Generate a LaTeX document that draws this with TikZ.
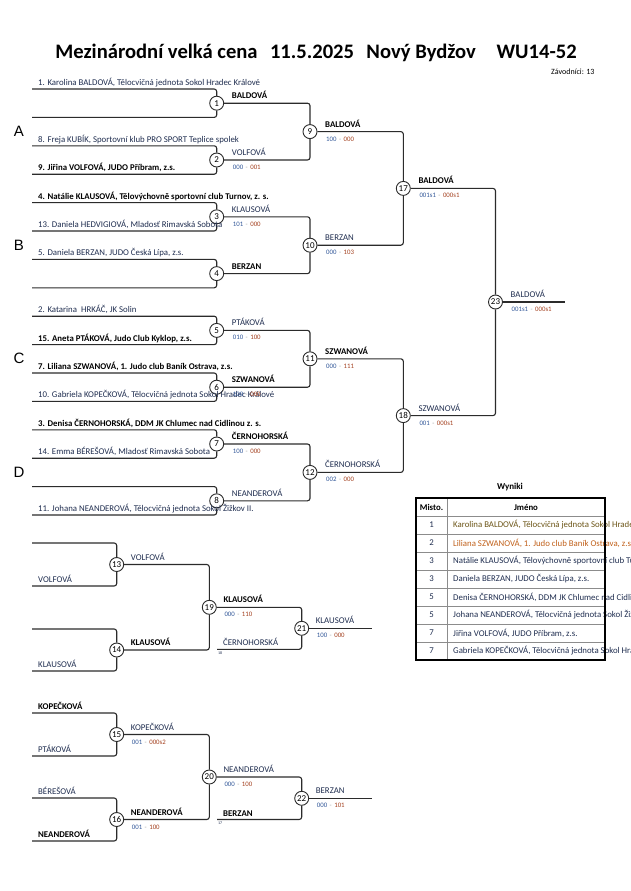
\documentclass[tikz,border=0pt]{standalone}
\usepackage{fontspec}
\setmainfont{Carlito}
\newfontfamily\grpfont{Liberation Sans}
\usetikzlibrary{positioning,calc}
\definecolor{ln}{HTML}{2B2B2B}
\definecolor{nm}{HTML}{1F2D4F}
\definecolor{scA}{HTML}{2F5597}
\definecolor{scB}{HTML}{A23E1C}
\definecolor{scS}{HTML}{9A9A9A}
\definecolor{tbl}{HTML}{8C8C8C}
\definecolor{rkA}{HTML}{6B5416}
\definecolor{rkB}{HTML}{C0601A}
\newcommand{\score}[2]{\textcolor{scA}{#1}\hspace{2.5pt}\textcolor{scS}{-}\hspace{2.5pt}\textcolor{scB}{#2}}

\begin{document}
\begin{tikzpicture}[x=1pt,y=-1pt,
  font=\fontsize{8.8}{10}\selectfont,
  wire/.style={draw=ln,line width=1.1pt,rounded corners=2.5pt},
  bout/.style={circle,draw=ln,line width=0.9pt,fill=white,inner sep=0pt,minimum size=14pt,font=\fontsize{9}{10}\selectfont},
  ent/.style={anchor=base west,inner sep=0pt,text=nm},
  entb/.style={ent,text=black,font=\fontsize{8.8}{10}\selectfont\bfseries},
  scr/.style={anchor=base west,inner sep=0pt,font=\fontsize{6.8}{8}\selectfont},
  grp/.style={font=\grpfont\fontsize{15}{16}\selectfont},
  ref/.style={anchor=north west,inner sep=0pt,text=nm,font=\fontsize{4}{5}\selectfont},
  cell/.style={inner sep=0pt,text=nm},
  ]
\useasboundingbox (0,0) rectangle (630,891);

% ================= header =================
\node[font=\fontsize{20.6}{24}\selectfont\bfseries] (title) at (316,53)
  {Mezinárodní velká cena\hspace{0.6em}11.5.2025\hspace{0.6em}Nový Bydžov\hspace{1em}WU14-52};
\node[anchor=east,font=\fontsize{8}{9}\selectfont] (count) at (598,72) {Závodníci: 13};

% ================= main bracket =================
\foreach \i in {0,...,15} \coordinate (e\i) at (32,{89+28.4*\i});
\foreach \k in {1,...,8} \node[bout] (m\k) at (216.7,{103.2+56.8*(\k-1)}) {\k};
\foreach \k in {9,...,12} \node[bout] (m\k) at (310,{131.6+113.6*(\k-9)}) {\k};
\node[bout] (m17) at (403.3,188.4) {17};
\node[bout] (m18) at (403.3,415.6) {18};
\node[bout] (m23) at (495.5,302) {23};
\coordinate (f23) at (565,302);

\foreach \k [evaluate=\k as \a using int(2*\k-2), evaluate=\k as \b using int(2*\k-1)] in {1,...,8}
  {\draw[wire] (e\a) -| (m\k); \draw[wire] (e\b) -| (m\k);}
\foreach \a/\b/\c in {1/2/9,3/4/10,5/6/11,7/8/12,9/10/17,11/12/18,17/18/23}
  {\draw[wire] (m\a) -| (m\c); \draw[wire] (m\b) -| (m\c);}
\draw[wire] (m23) -- (f23);

\foreach \i/\s/\t in {0/ent/{1. Karolina BALDOVÁ, Tělocvičná jednota Sokol Hradec Králové},
  2/ent/{8. Freja KUBÍK, Sportovní klub PRO SPORT Teplice spolek},
  3/entb/{9. Jiřina VOLFOVÁ, JUDO Příbram, z.s.},
  4/entb/{4. Natálie KLAUSOVÁ, Tělovýchovně sportovní club Turnov, z. s.},
  5/ent/{13. Daniela HEDVIGIOVÁ, Mladosť Rimavská Sobota},
  6/ent/{5. Daniela BERZAN, JUDO Česká Lípa, z.s.},
  8/ent/{2. Katarina\ \ HRKÁČ, JK Solin},
  9/entb/{15. Aneta PTÁKOVÁ, Judo Club Kyklop, z.s.},
  10/entb/{7. Liliana SZWANOVÁ, 1. Judo club Baník Ostrava, z.s.},
  11/ent/{10. Gabriela KOPEČKOVÁ, Tělocvičná jednota Sokol Hradec Králové},
  12/entb/{3. Denisa ČERNOHORSKÁ, DDM JK Chlumec nad Cidlinou z. s.},
  13/ent/{14. Emma BÉREŠOVÁ, Mladosť Rimavská Sobota},
  15/ent/{11. Johana NEANDEROVÁ, Tělocvičná jednota Sokol Žižkov II.}}
  \node[\s] (l\i) at ($(e\i)+(6,-3.5)$) {\t};

\foreach \g/\y in {A/131.6,B/245.2,C/358.8,D/472.4} \node[grp] (g\g) at (19,\y) {\g};

\foreach \k/\s/\t in {1/entb/BALDOVÁ,2/ent/VOLFOVÁ,3/ent/KLAUSOVÁ,4/entb/BERZAN,
  5/ent/PTÁKOVÁ,6/entb/SZWANOVÁ,7/entb/ČERNOHORSKÁ,8/ent/NEANDEROVÁ,
  9/entb/BALDOVÁ,10/ent/BERZAN,11/entb/SZWANOVÁ,12/ent/ČERNOHORSKÁ,
  17/entb/BALDOVÁ,18/ent/SZWANOVÁ,23/ent/BALDOVÁ}
  \node[\s] (w\k) at ($(m\k)+(15,-4.5)$) {\t};
\foreach \k/\p/\q in {2/000/001,3/101/000,5/010/100,6/100/000,7/100/000,9/100/000,
  10/000/103,11/000/111,12/002/000,17/001s1/000s1,18/001/000s1,23/001s1/000s1}
  \node[scr] (s\k) at ($(m\k)+(16,9.5)$) {\score{\p}{\q}};

% ================= repechage =================
\foreach \i/\y in {0/543,1/586,2/629,3/671,4/713,5/756,6/798,7/841} \coordinate (r\i) at (32,\y);
\foreach \k/\y in {13/564.5,14/650,15/734.5,16/819.5} \node[bout] (m\k) at (116.7,\y) {\k};
\node[bout] (m19) at (209.3,607.3) {19};
\node[bout] (m20) at (209.3,777) {20};
\node[bout] (m21) at (301.7,628.3) {21};
\node[bout] (m22) at (301.7,798.3) {22};
\coordinate (c18) at (217,649.3);
\coordinate (c17) at (217,819.5);
\coordinate (f21) at (372,628.3);
\coordinate (f22) at (372,798.3);

\foreach \a/\b/\c in {r0/r1/m13,r2/r3/m14,r4/r5/m15,r6/r7/m16,m13/m14/m19,m15/m16/m20,m19/c18/m21,m20/c17/m22}
  {\draw[wire] (\a) -| (\c); \draw[wire] (\b) -| (\c);}
\draw[wire] (m21) -- (f21);
\draw[wire] (m22) -- (f22);

\foreach \i/\s/\t in {1/ent/VOLFOVÁ,3/ent/KLAUSOVÁ,4/entb/KOPEČKOVÁ,5/ent/PTÁKOVÁ,6/ent/BÉREŠOVÁ,7/entb/NEANDEROVÁ}
  \node[\s] (q\i) at ($(r\i)+(6,-3.5)$) {\t};
\node[ent] (q18) at ($(c18)+(6,-3.5)$) {ČERNOHORSKÁ};
\node[entb] (q17) at ($(c17)+(6,-3.5)$) {BERZAN};
\node[ref] (n18) at ($(c18)+(1,2)$) {18};
\node[ref] (n17) at ($(c17)+(1,2)$) {17};

\foreach \k/\s/\t in {13/ent/VOLFOVÁ,14/entb/KLAUSOVÁ,15/ent/KOPEČKOVÁ,16/entb/NEANDEROVÁ,
  19/entb/KLAUSOVÁ,20/ent/NEANDEROVÁ,21/ent/KLAUSOVÁ,22/ent/BERZAN}
  \node[\s] (w\k) at ($(m\k)+(14,-4.5)$) {\t};
\foreach \k/\p/\q in {15/001/000s2,16/001/100,19/000/110,20/000/100,21/100/000,22/000/101}
  \node[scr] (s\k) at ($(m\k)+(15,9.5)$) {\score{\p}{\q}};

% ================= results =================
\node[font=\fontsize{9}{10}\selectfont\bfseries] (wyn) at (510,487) {Wyniki};
\foreach \r in {1,...,8} \draw[tbl,line width=0.6pt] (416,{498+18*\r}) -- (605,{498+18*\r});
\draw[tbl,line width=0.6pt] (447,498) -- (447,660);
\node[cell,text=black,font=\fontsize{8.8}{10}\selectfont\bfseries] (hM) at (431.5,507) {Misto.};
\node[cell,text=black,font=\fontsize{8.8}{10}\selectfont\bfseries] (hJ) at (526,507) {Jméno};
\foreach \r/\p/\c/\t in {1/1/rkA/{Karolina BALDOVÁ, Tělocvičná jednota Sokol Hradec Králové},
  2/2/rkB/{Liliana SZWANOVÁ, 1. Judo club Baník Ostrava, z.s.},
  3/3/nm/{Natálie KLAUSOVÁ, Tělovýchovně sportovní club Turnov, z. s.},
  4/3/nm/{Daniela BERZAN, JUDO Česká Lípa, z.s.},
  5/5/nm/{Denisa ČERNOHORSKÁ, DDM JK Chlumec nad Cidlinou z. s.},
  6/5/nm/{Johana NEANDEROVÁ, Tělocvičná jednota Sokol Žižkov II.},
  7/7/nm/{Jiřina VOLFOVÁ, JUDO Příbram, z.s.},
  8/7/nm/{Gabriela KOPEČKOVÁ, Tělocvičná jednota Sokol Hradec Králové}}
  {\node[cell] (p\r) at (431.5,{507+18*\r}) {\p};
   \node[cell,anchor=west,text=\c] (t\r) at (453,{507+18*\r}) {\t};}
\draw[black,line width=1.5pt] (416,498) rectangle (605,660);

\end{tikzpicture}
\end{document}
